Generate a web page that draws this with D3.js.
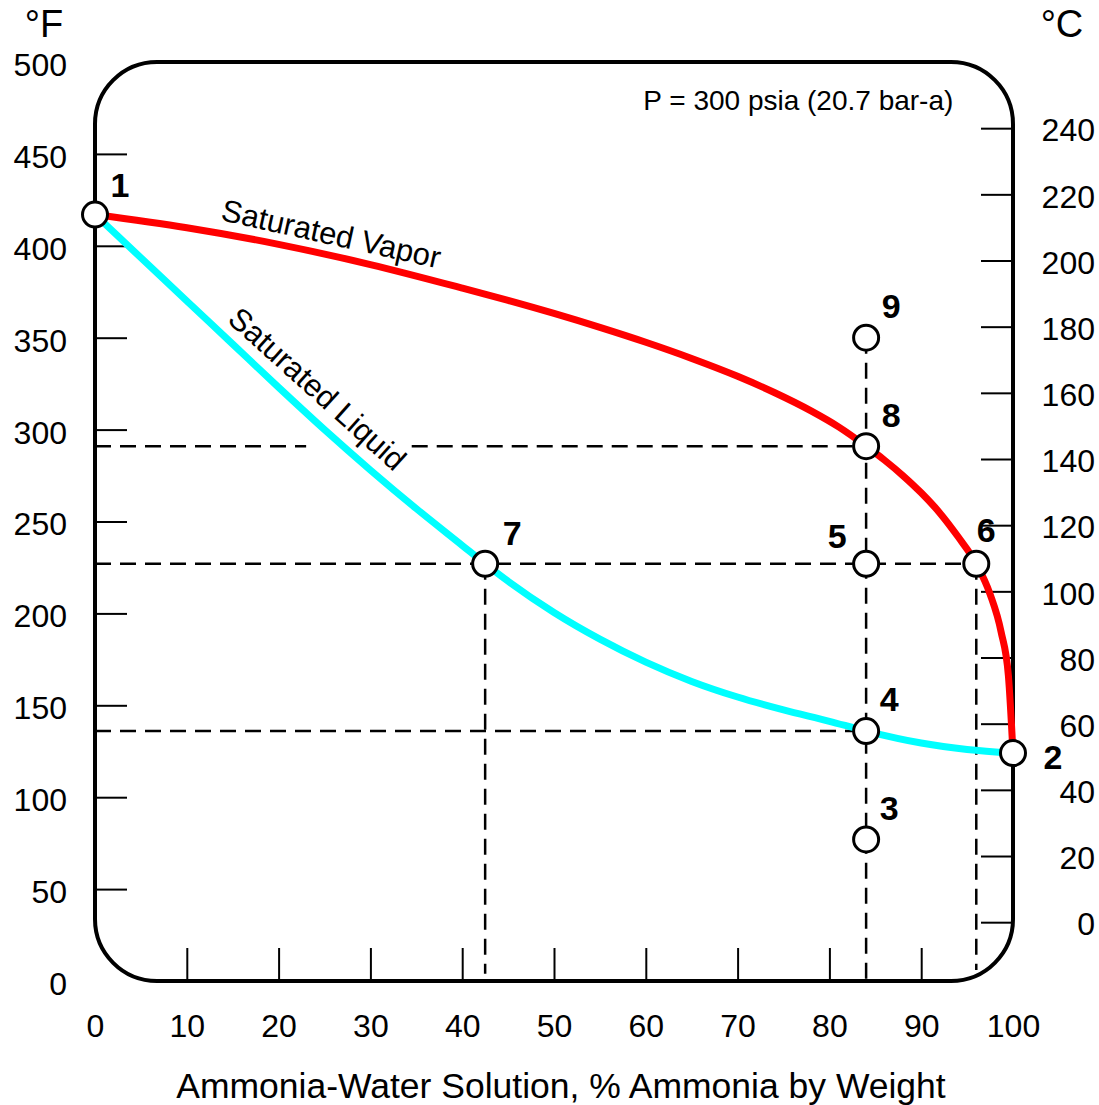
<!DOCTYPE html>
<head>
<meta charset="utf-8">
<style>
body { margin: 0; background: #fff; }
svg { font-family: "Liberation Sans", Arial, sans-serif; }
.frame { fill: none; stroke: #000; stroke-width: 4px; }
.axis text { font-size: 32px; fill: #000; }
.axis line { stroke: #000; stroke-width: 2px; }
.guide { fill: none; stroke: #000; stroke-width: 2.5px; stroke-dasharray: 16,9; }
.curve { fill: none; stroke-width: 7px; stroke-linejoin: round; stroke-linecap: round; }
.state circle { fill: #fff; stroke: #000; stroke-width: 3px; }
.state text { font-size: 34px; font-weight: bold; }
.curve-label { font-size: 31px; }
</style>
</head>
<body>

<svg width="1099" height="1105"></svg>
<script src="https://cdn.jsdelivr.net/npm/d3@7"></script>
<script>

// % ammonia by weight vs temperature (°F) at 300 psia
var vaporX = [0, 10, 20, 30, 40, 45, 50, 55, 60, 65, 70, 74, 78, 81, 84, 86, 88, 90, 92, 94, 96, 97.5, 98.7, 99.5, 100];
var vaporT = [417, 409.8, 400.8, 389.8, 377, 370.3, 363.2, 355.6, 347.5, 338.7, 329, 320.2, 310.2, 301.5, 291, 283.4, 275, 265.6, 254.8, 241.8, 227, 210.5, 190, 166, 124];

var liquidX = [0, 5, 10, 15, 20, 25, 30, 35, 40, 42.5, 45, 50, 55, 60, 65, 70, 75, 80, 84, 90, 95, 100];
var liquidT = [417, 393.5, 370, 346.5, 323, 300, 278, 257, 237, 227, 217.5, 200.5, 186, 173.5, 163, 154.5, 147.5, 141.3, 136, 129.5, 126, 124];

// numbered states
var stateIds = ["1", "2", "3", "4", "5", "6", "7", "8", "9"];
var stateX   = [0, 100, 84, 84, 84, 96, 42.5, 84, 84];
var stateT   = [417, 124, 77, 136, 227, 227, 227, 291, 350];
var labelDx  = [25, 40, 23, 23, -29, 10, 27, 25, 25];
var labelDy  = [-30, 4, -32, -32, -28, -34, -31, -31, -32];

// dashed construction lines [x1, T1, x2, T2]
var guides = [
  [0, 291, 23, 291], [34.5, 291, 84, 291],
  [0, 227, 96, 227],
  [0, 136, 84, 136],
  [42.5, 227, 42.5, 4],
  [84, 350, 84, 0],
  [96, 227, 96, 6]
];

var xTicks = d3.range(0, 101, 10);
var fTicks = d3.range(0, 501, 50);
var cTicks = d3.range(0, 241, 20);

var svg = d3.select("svg");
var pLeft = 95, pRight = 1013, pTop = 62, pBottom = 981;

var x = d3.scaleLinear().domain([0, 100]).range([pLeft, pRight]);
var y = d3.scaleLinear().domain([0, 500]).range([pBottom, pTop]);
var yC = d3.scaleLinear().domain([-160 / 9, 2340 / 9]).range([pBottom, pTop]); // °C = (°F - 32) / 1.8

svg.append("rect")
    .attr("class", "frame")
    .attr("x", pLeft).attr("y", pTop)
    .attr("width", pRight - pLeft).attr("height", pBottom - pTop)
    .attr("rx", 62).attr("ry", 62);

var gl = svg.append("g").attr("class", "axis")
    .attr("transform", "translate(" + pLeft + ",0)")
    .call(d3.axisLeft(y).tickValues(fTicks).tickSizeInner(-32).tickSizeOuter(0).tickPadding(28));
var gb = svg.append("g").attr("class", "axis")
    .attr("transform", "translate(0," + pBottom + ")")
    .call(d3.axisBottom(x).tickValues(xTicks).tickSizeInner(-33).tickSizeOuter(0).tickPadding(33));
var gr = svg.append("g").attr("class", "axis")
    .attr("transform", "translate(" + pRight + ",0)")
    .call(d3.axisRight(yC).tickValues(cTicks).tickSizeInner(-32).tickSizeOuter(0));

[gl, gb, gr].forEach(function(g) {
  g.select(".domain").remove();
  g.attr("font-family", null).attr("font-size", null);
});
gl.selectAll(".tick").filter(function(d) { return d === 0 || d === 500; }).select("line").remove();
gb.selectAll(".tick").filter(function(d) { return d === 0 || d === 100; }).select("line").remove();
gl.selectAll("text").attr("dy", "0.42em");
gr.selectAll("text").attr("x", 82).attr("dy", "0.4em").attr("text-anchor", "end");

svg.append("text").attr("x", 44).attr("y", 37).attr("text-anchor", "middle")
    .style("font-size", "38px").text("°F");
svg.append("text").attr("x", 1062).attr("y", 37).attr("text-anchor", "middle")
    .style("font-size", "38px").text("°C");
svg.append("text").attr("x", (pLeft + pRight) / 2 + 7).attr("y", 1098).attr("text-anchor", "middle")
    .style("font-size", "35.5px").text("Ammonia-Water Solution, % Ammonia by Weight");
svg.append("text").attr("x", x(93.5)).attr("y", y(474)).attr("text-anchor", "end")
    .style("font-size", "28px").text("P = 300 psia (20.7 bar-a)");

svg.selectAll(".guide")
    .data(guides)
  .enter().append("line")
    .attr("class", "guide")
    .attr("x1", function(d) { return x(d[0]); })
    .attr("y1", function(d) { return y(d[1]); })
    .attr("x2", function(d) { return x(d[2]); })
    .attr("y2", function(d) { return y(d[3]); });

var line = d3.line()
    .x(function(d) { return x(d[0]); })
    .y(function(d) { return y(d[1]); })
    .curve(d3.curveMonotoneX);

svg.append("path").attr("class", "curve").attr("stroke", "#00ffff")
    .attr("d", line(d3.zip(liquidX, liquidT)));
svg.append("path").attr("class", "curve").attr("stroke", "#ff0000")
    .attr("d", line(d3.zip(vaporX, vaporT)));

svg.append("text").attr("class", "curve-label")
    .attr("transform", "translate(" + x(13.6) + "," + y(414) + ") rotate(12.5)")
    .text("Saturated Vapor");
svg.append("text").attr("class", "curve-label")
    .attr("transform", "translate(" + x(14.3) + "," + y(359) + ") rotate(42)")
    .text("Saturated Liquid");

var state = svg.selectAll(".state")
    .data(stateIds)
  .enter().append("g")
    .attr("class", "state")
    .attr("transform", function(d, i) { return "translate(" + x(stateX[i]) + "," + y(stateT[i]) + ")"; });

state.append("circle").attr("r", 12.5);
state.append("text")
    .attr("x", function(d, i) { return labelDx[i]; })
    .attr("y", function(d, i) { return labelDy[i]; })
    .attr("dy", "0.36em")
    .attr("text-anchor", "middle")
    .text(function(d) { return d; });

</script>
</body>
